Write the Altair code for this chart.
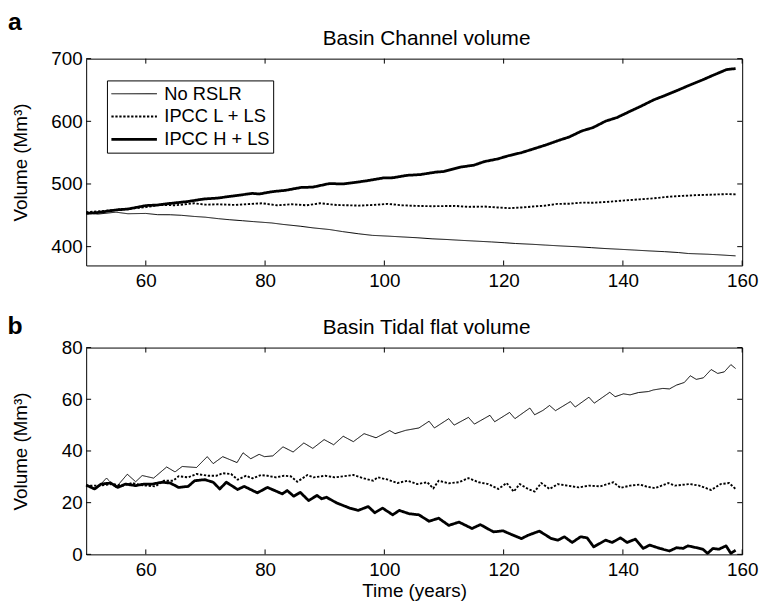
import altair as alt
import pandas as pd

SERIES = ["No RSLR", "IPCC L + LS", "IPCC H + LS"]
FONT = "Liberation Sans"

# ---------------- Panel a: Basin Channel volume ----------------
a_none_t = [50, 52, 55, 57, 60, 62, 64.1, 66, 68.1, 70, 72.2, 74, 76.2, 78, 81.1, 83, 86, 88, 90.8, 93, 95.7,
            98, 100.6, 103, 105.5, 108, 110.3, 113, 115.2, 118, 120.1, 122, 124.9, 127, 129.8, 132, 134.7,
            137, 139.5, 142, 144.4, 147, 149.3, 151, 154.2, 156, 158.9]
a_none_v = [453.5, 452, 455, 452.5, 453, 451, 450.9, 450, 448.2, 447, 444.6, 443, 441.4, 440, 437.8, 435.5, 432.5,
            430, 427.3, 424, 420.5, 418, 416.8, 415.5, 414.2, 412.5, 411.5, 410, 408.9, 407.5, 406.3, 405, 403.7,
            402.5, 401, 400, 398.4, 397, 395.8, 394.5, 393.2, 392, 390.6, 389, 387.9, 387, 385.3]

a_low_t = [50, 53, 56.8, 60, 62.4, 65, 68.1, 70, 72.2, 75, 79.5, 82, 84.4, 87, 89.2, 92, 95.7, 98, 100.6, 103,
           105.5, 108, 111.9, 114, 116.8, 119, 120.9, 123, 124.9, 127, 129, 131, 133.1, 135, 137.9, 140, 142.8,
           145, 147.7, 150, 152.5, 155, 157.4, 158.9]
a_low_v = [455, 457, 460.3, 463, 466.6, 466, 469.2, 467, 467.6, 466.5, 469.2, 466, 467.6, 466, 469.2, 466.5, 465.5,
           466.5, 468.2, 466, 465, 464.5, 465, 463.5, 464, 462.5, 461.4, 462.5, 464, 465.5, 468.2, 468.5, 470.3,
           470, 471.8, 473.5, 475.5, 477, 479.7, 481, 482.3, 483, 483.9, 483.4]

a_high_t = [50, 52, 55.1, 57, 60, 62, 64.1, 67, 69.7, 72, 74.6, 77.9, 79, 81.1, 83.5, 86, 88, 90.8, 93, 95.7, 97,
            99.8, 101.5, 103.8, 106, 108.7, 110, 112.8, 115, 116.8, 119, 120.9, 123, 124.9, 127, 129, 131,
            133.1, 135, 137.1, 139, 141.2, 143, 145.2, 147, 149.3, 151, 153.3, 155, 157.4, 158.9]
a_high_v = [453, 454.5, 458.7, 460, 465.5, 466.5, 469, 472, 476, 477.5, 480.8, 485, 484, 487.6, 490, 494.4, 495,
            500.7, 500, 503.3, 505, 509.6, 510, 513.8, 515, 519, 520, 527, 530, 535.8, 540, 545.3, 550, 555.7,
            562, 568.8, 575, 584.6, 590, 600.3, 606, 616, 624, 634.4, 641, 650, 657, 665.9, 673, 682.6, 684.2]

# ---------------- Panel b: Basin Tidal flat volume ----------------
b_none_t = [50, 51.7, 53.4, 55, 56.9, 58.3, 59.4, 61.3, 63.5, 64.9, 66.1, 68.5, 70.3, 71.3, 72.9, 75.3, 76.3, 77.6,
            79, 79.9, 81.3, 83, 84.7, 86.5, 88, 89.9, 91.5, 93.1, 94.8, 96.6, 98.6, 100.9, 101.8, 103.6, 105.8,
            107.5, 108.4, 110.8, 111.7, 114.1, 115.1, 117.7, 118.5, 121, 121.9, 123.6, 124.4, 125.2, 126.6,
            127.7, 128.7, 131.2, 132, 134.3, 135.2, 137.8, 138.7, 140.1, 141.2, 142.6, 144.3, 145.1, 146.7,
            147.8, 149, 150.3, 151.3, 152.3, 153.5, 154.8, 155.9, 157, 158.1, 158.9]
b_none_v = [26.8, 25.3, 29.5, 25.9, 31, 28.1, 30.5, 29.5, 33.8, 31.9, 34, 33.6, 37.8, 35.1, 37.8, 35.5, 39.3, 37,
            38.7, 37.8, 38.1, 41.6, 39.6, 43.1, 41, 44.4, 42.4, 45.7, 43.6, 46.7, 45.1, 47.9, 46.7, 48, 48.9,
            51.5, 48.9, 52.5, 50, 53, 50.4, 53.8, 51.3, 54.9, 52.5, 55.3, 56.6, 54, 55.7, 57.6, 55.6, 59.1, 57,
            60.8, 58.5, 62.7, 61, 62.1, 61.7, 62.6, 63, 63.6, 64.2, 64, 65.5, 66.5, 69.1, 67.7, 68.3, 71.5, 70,
            70.6, 73.4, 71.9]

b_low_t = [50, 52.2, 54.4, 56.1, 57.7, 59.1, 61.6, 63, 64.6, 65.5, 67.1, 68.5, 70.5, 71.8, 72.9, 74.3, 75.4, 76.8,
           77.9, 79.3, 80.4, 81.8, 83.2, 84.3, 85.4, 87.1, 88.1, 90.1, 91.7, 93.1, 94.8, 96.4, 98.1, 98.9, 100.6,
           102.2, 103.9, 105.5, 107.2, 108.2, 109.1, 110.8, 112.5, 114.1, 115.8, 117.4, 119.1, 120.5, 121.7,
           122.7, 124.1, 125.2, 126.3, 127.7, 129.1, 130.7, 132.6, 134.3, 136.2, 138.4, 139.6, 141.2, 142.9,
           144, 145.4, 147.6, 148.7, 151.2, 152.8, 154.8, 156.4, 157.8, 158.9]
b_low_v = [26.6, 26.6, 27.2, 26.6, 27.6, 26.8, 26.3, 28.5, 28.5, 30.2, 29.8, 31.1, 30.4, 30.4, 31.4, 31.1, 28.9,
           30.4, 29.4, 30.7, 30.4, 29.8, 30.4, 30.2, 28.1, 30.7, 29.8, 30.4, 29.8, 30.2, 30.7, 29.5, 28.5, 29.8,
           28.9, 27.6, 28.5, 27.2, 27.9, 25.5, 28.5, 27.5, 27.9, 29.5, 27.9, 27.2, 25.3, 27.6, 24.3, 27.2, 25.3,
           24.3, 27.6, 25.3, 27.2, 26.6, 25.9, 26.6, 26.3, 27.9, 25.7, 26.6, 27, 26.2, 25.6, 27.6, 26.6, 27.2,
           26.6, 24.9, 27.2, 27.6, 25.3]

b_high_t = [50, 51.4, 52.5, 54.1, 55.3, 56.6, 58.3, 59.7, 61.1, 62.7, 64.1, 65.5, 67.1, 68.2, 69.9, 71.3, 72.4,
            73.5, 75.4, 76.5, 78.7, 80.4, 82.9, 83.7, 84.8, 85.9, 87.3, 88.7, 89.5, 90.3, 92, 93.1, 94.2, 95.6,
            97.3, 98.4, 99.7, 101.4, 102.5, 104.2, 105.8, 107.5, 109.1, 110.8, 112.5, 114.7, 116.1, 118.3,
            119.9, 121.3, 123, 124.1, 126, 128, 129.1, 130.2, 131.5, 132.9, 134, 135.1, 137.1, 138.2, 139.6,
            140.7, 142.1, 143.4, 144.5, 146.2, 147.8, 149, 150.1, 150.9, 152.3, 153.4, 154.2, 155.1, 156.1,
            157.3, 158.1, 158.9]
b_high_v = [26.8, 25.3, 27.2, 27.6, 25.9, 27.2, 26.6, 27.2, 27.2, 27.9, 27.6, 25.9, 26.3, 28.5, 28.9, 27.9, 25.3,
            27.9, 25.1, 26.3, 23.8, 25.9, 23.4, 24.7, 22.5, 24, 20.8, 22.8, 21.5, 22.1, 19.9, 18.9, 17.9, 17,
            18.5, 16.1, 17.9, 15.3, 17, 15.7, 15.3, 12.8, 14, 11.2, 12.5, 10, 11.5, 8.7, 9.1, 7.7, 6.1, 7.4, 9,
            6.1, 5.5, 6.8, 4.6, 6.8, 6.4, 2.9, 5.5, 4.6, 6.4, 4.6, 5.9, 2.3, 3.6, 2.3, 1.3, 2.6, 2.3, 3.3, 2.6,
            2, 0.4, 2.3, 2, 3.3, 0.4, 1.6]

X_TICKS = [60, 80, 100, 120, 140, 160]
A_Y_TICKS = [400, 500, 600, 700]
B_Y_TICKS = [0, 20, 40, 60, 80]


def frame(parts):
    rows = []
    for name, ts, vs in parts:
        for t, v in zip(ts, vs):
            rows.append({"t": t, "v": v, "s": name})
    return pd.DataFrame(rows)


df_a = frame([(SERIES[0], a_none_t, a_none_v), (SERIES[1], a_low_t, a_low_v), (SERIES[2], a_high_t, a_high_v)])
df_b = frame([(SERIES[0], b_none_t, b_none_v), (SERIES[1], b_low_t, b_low_v), (SERIES[2], b_high_t, b_high_v)])

W, H = 663, 209
TICK = 5
DASHES = [[1, 0], [2.3, 1.7], [1, 0]]
WIDTHS = [1.0, 2.8, 3.6]


def panel(df, ydom, yticks, title, letter, letter_y, show_legend, xtitle):
    xs = alt.Scale(domain=[50, 160], nice=False, zero=False)
    ys = alt.Scale(domain=ydom, nice=False, zero=False)
    xaxis = alt.Axis(values=X_TICKS, format="d", title=xtitle, titleFontSize=19, titleFont=FONT,
                     titleFontWeight="normal", titlePadding=3, labelFlush=False, labelOverlap=False)
    yaxis = alt.Axis(values=yticks, format="d", title="Volume (Mm³)", titleX=-56, titleY=H / 2,
                     titleFontSize=19, titleFont=FONT, titleFontWeight="normal", labelFlush=False)
    if show_legend:
        leg = alt.Legend(title=None, orient="none", legendX=21, legendY=22, symbolType="stroke",
                         symbolSize=2116, clipHeight=21, strokeColor="black", fillColor="white",
                         padding=3, labelFontSize=18.5, labelFont=FONT, labelColor="black",
                         symbolStrokeColor="black", labelOffset=6, rowPadding=2, cornerRadius=0,
                         offset=0)
    else:
        leg = None
    dash = alt.StrokeDash("s:N", scale=alt.Scale(domain=SERIES, range=DASHES), legend=leg)
    sw = alt.StrokeWidth("s:N", scale=alt.Scale(domain=SERIES, range=WIDTHS), legend=leg)

    lines = alt.Chart(df).mark_line(color="black", strokeCap="butt", strokeJoin="round").encode(
        x=alt.X("t:Q", scale=xs, axis=xaxis),
        y=alt.Y("v:Q", scale=ys, axis=yaxis),
        strokeDash=dash,
        strokeWidth=sw,
        detail="s:N",
    )
    xt = pd.DataFrame({"t": X_TICKS})
    yt = pd.DataFrame({"v": yticks})
    tick_style = dict(color="black", strokeWidth=1)
    xt_bottom = alt.Chart(xt).mark_rule(**tick_style).encode(
        x=alt.X("t:Q", scale=xs), y=alt.value(H), y2=alt.value(H - TICK))
    xt_top = alt.Chart(xt).mark_rule(**tick_style).encode(
        x=alt.X("t:Q", scale=xs), y=alt.value(0), y2=alt.value(TICK))
    yt_left = alt.Chart(yt).mark_rule(**tick_style).encode(
        y=alt.Y("v:Q", scale=ys), x=alt.value(0), x2=alt.value(TICK))
    yt_right = alt.Chart(yt).mark_rule(**tick_style).encode(
        y=alt.Y("v:Q", scale=ys), x=alt.value(W), x2=alt.value(W - TICK))
    lab = alt.Chart(pd.DataFrame({"lab": [letter]})).mark_text(
        font=FONT, fontSize=25, fontWeight="bold", align="center", baseline="alphabetic", color="black"
    ).encode(text="lab:N", x=alt.value(-72), y=alt.value(letter_y))
    ttl = alt.Chart(pd.DataFrame({"lab": [title]})).mark_text(
        font=FONT, fontSize=21, align="center", baseline="alphabetic", color="black"
    ).encode(text="lab:N", x=alt.value(344), y=alt.value(-14))

    return alt.layer(lines, xt_bottom, xt_top, yt_left, yt_right, lab, ttl).properties(width=W, height=H)


pa = panel(df_a, [370, 700], A_Y_TICKS, "Basin Channel volume", "a", -29, True, None)
pb = panel(df_b, [0, 80], B_Y_TICKS, "Basin Tidal flat volume", "b", -14, False, "Time (years)")

chart = alt.vconcat(pa, pb, spacing=22).resolve_scale(
    strokeDash="independent", strokeWidth="independent"
).resolve_legend(strokeDash="independent", strokeWidth="independent").properties(
    padding={"left": -2, "top": -2, "right": 0, "bottom": 2}
).configure_view(stroke="black", strokeWidth=1).configure_axis(
    domain=False, ticks=False, grid=False, labelFont=FONT, labelFontSize=19, labelColor="black",
    labelPadding=4, titleColor="black"
).configure_axisX(labelPadding=6)

chart.save("out.html", embed_options={"renderer": "svg", "actions": False})
